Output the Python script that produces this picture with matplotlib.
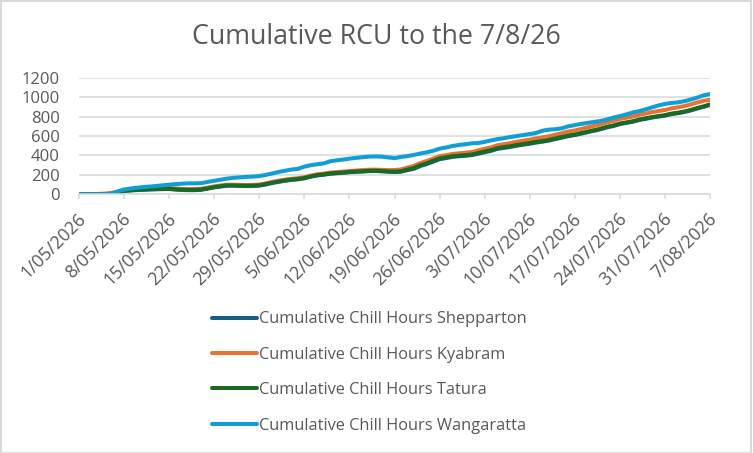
import numpy as np
import pandas as pd
import matplotlib
matplotlib.use("Agg")
from matplotlib import pyplot as plt
from matplotlib.patches import Rectangle
from matplotlib.transforms import ScaledTranslation

# daily dates 1/05/2026 .. 7/08/2026
dates = pd.date_range("2026-05-01", "2026-08-07", freq="D")

# values (one per day)
tatura = [0, 0, 0, 0, 0, 0, 20, 37, 42, 47, 50, 53, 55, 57, 58, 52, 48, 46, 46, 50,
          62, 75, 84, 92, 92, 90, 88, 90, 93, 105, 120, 132, 143, 152, 158, 168, 185, 198, 205, 215,
          220, 225, 230, 235, 238, 242, 243, 240, 236, 234, 238, 255, 270, 300, 320, 345, 370, 380, 392, 398,
          403, 410, 425, 440, 455, 475, 485, 495, 508, 518, 528, 540, 548, 560, 575, 590, 605, 615, 630, 645,
          660, 675, 695, 708, 728, 740, 752, 770, 782, 795, 805, 815, 830, 840, 852, 868, 888, 905, 925]
kyabram = [0, 0, 2, 4, 8, 14, 26, 42, 48, 53, 56, 59, 62, 64, 65, 60, 56, 54, 54, 58,
           70, 82, 92, 99, 99, 97, 96, 97, 100, 113, 128, 140, 151, 160, 166, 176, 193, 206, 213, 223,
           229, 234, 240, 245, 249, 253, 254, 252, 249, 250, 256, 275, 292, 322, 343, 368, 392, 403, 415, 422,
           428, 436, 452, 468, 484, 505, 516, 527, 541, 552, 563, 576, 585, 598, 614, 630, 646, 657, 673, 689,
           705, 721, 741, 755, 775, 788, 801, 819, 832, 846, 857, 868, 884, 895, 908, 925, 945, 962, 972]
shepparton = [0, 0, 0, 0, 0, 0, 18, 35, 40, 44, 47, 50, 52, 54, 55, 49, 45, 43, 43, 47,
              59, 72, 81, 89, 89, 87, 85, 87, 90, 102, 117, 129, 140, 149, 155, 165, 182, 195, 202, 212,
              217, 222, 227, 232, 235, 239, 240, 237, 233, 230, 233, 249, 263, 292, 312, 337, 362, 373, 385, 392,
              397, 404, 418, 433, 448, 468, 478, 488, 501, 511, 521, 533, 542, 554, 569, 584, 599, 610, 625, 640,
              655, 670, 690, 703, 723, 735, 747, 765, 777, 790, 800, 810, 825, 835, 847, 863, 883, 900, 920]
wangaratta = [0, 0, 0, 0, 2, 8, 30, 50, 60, 68, 75, 80, 86, 93, 99, 105, 110, 113, 113, 115,
              128, 140, 150, 162, 170, 175, 180, 182, 188, 200, 215, 230, 243, 255, 262, 285, 300, 310, 318, 340,
              350, 358, 367, 375, 382, 388, 390, 388, 380, 372, 385, 393, 405, 420, 432, 448, 470, 482, 497, 508,
              515, 525, 528, 540, 555, 568, 578, 590, 600, 610, 620, 632, 655, 666, 670, 680, 700, 712, 725, 735,
              745, 755, 770, 790, 805, 822, 842, 856, 875, 895, 915, 930, 940, 946, 958, 975, 995, 1018, 1032]

series = [
    ("Cumulative Chill Hours Shepparton", shepparton, "#156082"),
    ("Cumulative Chill Hours Kyabram", kyabram, "#E97132"),
    ("Cumulative Chill Hours Tatura", tatura, "#196B24"),
    ("Cumulative Chill Hours Wangaratta", wangaratta, "#0F9ED5"),
]

plt.rcParams["font.family"] = ["Open Sans", "DejaVu Sans"]
grey = "#595959"

fig = plt.figure(figsize=(7.53, 4.53), dpi=100)
ax = fig.add_axes([0.105, 0.571, 0.838, 0.2575])

for name, vals, col in series:
    ax.plot(dates, vals, color=col, lw=2.9, label=name, solid_capstyle="round")

ax.set_ylim(0, 1200)
ax.set_yticks(range(0, 1201, 200))
ax.set_xlim(dates[0], dates[-1])
ticks = dates[::7]
ax.set_xticks(ticks)
ax.set_xticklabels([f"{d.day}/{d.month:02d}/{d.year}" for d in ticks],
                   rotation=45, ha="right", va="center", rotation_mode="anchor")

ax.grid(axis="y", color="#d9d9d9", lw=1.1)
ax.set_axisbelow(True)
for s in ["top", "right", "left"]:
    ax.spines[s].set_visible(False)
ax.spines["bottom"].set_color("#d9d9d9")
ax.spines["bottom"].set_linewidth(1.1)
ax.tick_params(axis="y", length=0, pad=14, labelsize=12, labelcolor=grey)
ax.tick_params(axis="x", length=3.6, width=1.1, color="#d9d9d9", pad=12,
               labelsize=12.8, labelcolor=grey)
# nudge date labels a little to the right, as in the original
shift = ScaledTranslation(4 / 100, 0, fig.dpi_scale_trans)
for lab in ax.get_xticklabels():
    lab.set_transform(lab.get_transform() + shift)

fig.text(0.5, 0.918, "Cumulative RCU to the 7/8/26", ha="center", va="center",
         fontsize=19.3, color=grey)

leg = fig.legend(loc="center", bbox_to_anchor=(0.491, 0.1777), ncol=1,
                 frameon=False, fontsize=11.8, handlelength=2.7, handletextpad=0.15,
                 labelspacing=1.18, labelcolor=grey)

fig.patches.append(Rectangle((0.001, 0.001), 0.997, 0.996, transform=fig.transFigure,
                             fill=False, edgecolor="#d9d9d9", lw=1.5))

fig.savefig("out.png", dpi=100)
